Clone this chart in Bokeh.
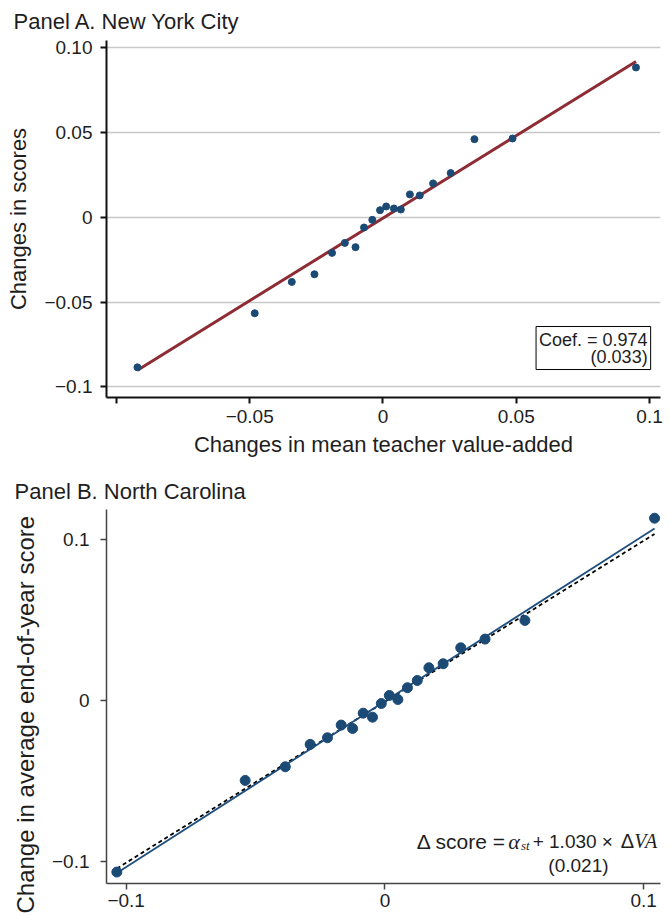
from bokeh.plotting import figure
from bokeh.layouts import column
from bokeh.models import Range1d, FixedTicker, Label, Title
from bokeh.embed import file_html
from bokeh.resources import INLINE

FONT = "Liberation Sans"
SERIF = "Liberation Serif"
TXT = "#1e1e1e"
DOT = "#1b4a75"

# ---------------- Panel A: New York City ----------------
nyc_va_change = [-0.0921, -0.0481, -0.0342, -0.0257, -0.0191, -0.0143, -0.0103, -0.0071,
                 -0.0040, -0.0011, 0.0012, 0.0041, 0.0067, 0.0101, 0.0138, 0.0188,
                 0.0254, 0.0343, 0.0486, 0.0949]
nyc_score_change = [-0.0884, -0.0565, -0.0380, -0.0335, -0.0209, -0.0150, -0.0175, -0.0059,
                    -0.0014, 0.0043, 0.0065, 0.0053, 0.0047, 0.0136, 0.0130, 0.0201,
                    0.0262, 0.0462, 0.0466, 0.0885]
nyc_coef = 0.974
nyc_se = 0.033
nyc_intercept = -0.0004

nyc_xticks = [-0.1, -0.05, 0, 0.05, 0.1]
nyc_xlabels = ["", "−0.05", "0", "0.05", "0.1"]
nyc_yticks = [-0.1, -0.05, 0, 0.05, 0.1]
nyc_ylabels = ["−0.1", "−0.05", "0", "0.05", "0.10"]

# ---------------- Panel B: North Carolina ----------------
nc_va_change = [-0.1036, -0.0540, -0.0385, -0.0289, -0.0222, -0.0169, -0.0125, -0.0084,
                -0.0048, -0.0014, 0.0017, 0.0050, 0.0087, 0.0125, 0.0170, 0.0225,
                0.0293, 0.0387, 0.0541, 0.1042]
nc_score_change = [-0.1066, -0.0497, -0.0412, -0.0273, -0.0232, -0.0153, -0.0174, -0.0079,
                   -0.0104, -0.0019, 0.0031, 0.0006, 0.0079, 0.0124, 0.0203, 0.0228,
                   0.0327, 0.0381, 0.0497, 0.1132]
nc_coef = 1.030
nc_se = 0.021
nc_intercept = -0.0005
nc_ref_slope = 1.0
nc_ref_intercept = -0.0008

nc_ticks = [-0.1, 0, 0.1]
nc_labels = ["−0.1", "0", "0.1"]


def style_axes(p, tick_size, color, width):
    for ax in (p.xaxis[0], p.yaxis[0]):
        ax.axis_line_color = color
        ax.axis_line_width = width
        ax.major_tick_line_color = color
        ax.major_tick_line_width = width
        ax.major_tick_out = 6
        ax.major_tick_in = 0
        ax.minor_tick_line_color = None
        ax.major_label_text_font = FONT
        ax.major_label_text_font_size = tick_size
        ax.major_label_text_color = TXT
        ax.major_label_standoff = 8
        ax.axis_label_text_font = FONT
        ax.axis_label_text_font_style = "normal"
        ax.axis_label_text_color = TXT


# ---------- figure A ----------
pa = figure(width=670, height=470, output_backend="svg", toolbar_location=None,
            x_range=Range1d(-0.1037, 0.1041), y_range=Range1d(-0.1062, 0.1044),
            min_border_left=103, min_border_right=10, min_border_top=40, min_border_bottom=73)
pa.title = Title(text="Panel A. New York City", align="left", offset=-93, standoff=13,
                 text_font=FONT, text_font_size="22px", text_font_style="normal",
                 text_color=TXT)
pa.outline_line_color = None
pa.xgrid.visible = False
pa.ygrid.grid_line_color = "#c8c8c8"
pa.ygrid.grid_line_width = 1.5

pa.xaxis.ticker = FixedTicker(ticks=nyc_xticks)
pa.xaxis.major_label_overrides = dict(zip(nyc_xticks, nyc_xlabels))
pa.yaxis.ticker = FixedTicker(ticks=nyc_yticks)
pa.yaxis.major_label_overrides = dict(zip(nyc_yticks, nyc_ylabels))
pa.xaxis.axis_label = "Changes in mean teacher value-added"
pa.yaxis.axis_label = "Changes in scores"
style_axes(pa, "19px", "#111111", 2)
pa.xaxis.axis_label_text_font_size = "22px"
pa.yaxis.axis_label_text_font_size = "22px"
pa.xaxis.major_label_standoff = 6
pa.xaxis.axis_label_standoff = 6
pa.yaxis.axis_label_standoff = 10

xa = [min(nyc_va_change), max(nyc_va_change)]
pa.line(xa, [nyc_coef * v + nyc_intercept for v in xa], line_color="#8e2c34", line_width=3)
pa.scatter(nyc_va_change, nyc_score_change, size=7, color=DOT)

pa.add_layout(Label(x=0.1004, y=-0.0897, text=f"Coef. = {nyc_coef:.3f}\n({nyc_se:.3f})",
                    text_align="right", text_baseline="bottom", padding=3,
                    border_line_color="black", border_line_width=1,
                    background_fill_color="white", text_line_height=0.85,
                    text_font=FONT, text_font_size="18px", text_color=TXT))

# ---------- figure B ----------
pb = figure(width=670, height=446, output_backend="svg", toolbar_location=None,
            x_range=Range1d(-0.1076, 0.1065), y_range=Range1d(-0.1137, 0.1186),
            min_border_left=102, min_border_right=0, min_border_top=39, min_border_bottom=33)
pb.title = Title(text="Panel B. North Carolina", align="left", offset=-92, standoff=12,
                 text_font=FONT, text_font_size="22px", text_font_style="normal",
                 text_color=TXT)
pb.outline_line_color = None
pb.xgrid.visible = False
pb.ygrid.visible = False
pb.xaxis.ticker = FixedTicker(ticks=nc_ticks)
pb.xaxis.major_label_overrides = dict(zip(nc_ticks, nc_labels))
pb.yaxis.ticker = FixedTicker(ticks=nc_ticks)
pb.yaxis.major_label_overrides = dict(zip(nc_ticks, nc_labels))
style_axes(pb, "19px", "#444444", 1.5)
pb.yaxis.major_label_standoff = 11
pb.xaxis.major_label_standoff = 4

# y-axis title, starting a little below the frame bottom as in the original
pb.add_layout(Title(text="Change in average end-of-year score", align="left",
                    offset=-30, standoff=19, text_font=FONT, text_font_size="24px",
                    text_font_style="normal", text_color=TXT), "left")

xb = [min(nc_va_change), max(nc_va_change)]
pb.line(xb, [nc_ref_slope * v + nc_ref_intercept for v in xb], line_color="black",
        line_width=1.8, line_dash="4 3")
pb.line(xb, [nc_coef * v + nc_intercept for v in xb], line_color="#1f4f7f", line_width=1.8)
pb.scatter(nc_va_change, nc_score_change, size=10, color=DOT)

ann_y = -0.0876
pieces = [
    (0.0123, ann_y, "Δ score =", FONT, "normal", "21px", "left"),
    (0.0477, ann_y, "α", SERIF, "italic", "22px", "left"),
    (0.0526, ann_y - 0.0028, "st", SERIF, "italic", "13px", "left"),
    (0.0571, ann_y, f"+ {nc_coef:.3f} ×", FONT, "normal", "19px", "left"),
    (0.0963, ann_y, "Δ", FONT, "normal", "20px", "right"),
    (0.1052, ann_y, "VA", SERIF, "italic", "20px", "right"),
]
for x, y, t, f, s, fs, al in pieces:
    pb.add_layout(Label(x=x, y=y, text=t, text_font=f, text_font_style=s,
                        text_font_size=fs, text_color=TXT, text_align=al,
                        text_baseline="alphabetic"))
pb.add_layout(Label(x=0.0748, y=-0.1025, text=f"({nc_se:.3f})", text_align="center",
                    text_baseline="alphabetic", text_font=FONT, text_font_size="19px",
                    text_color=TXT))

layout = column(pa, pb, spacing=0)
open("out.html", "w").write(file_html(layout, INLINE))
